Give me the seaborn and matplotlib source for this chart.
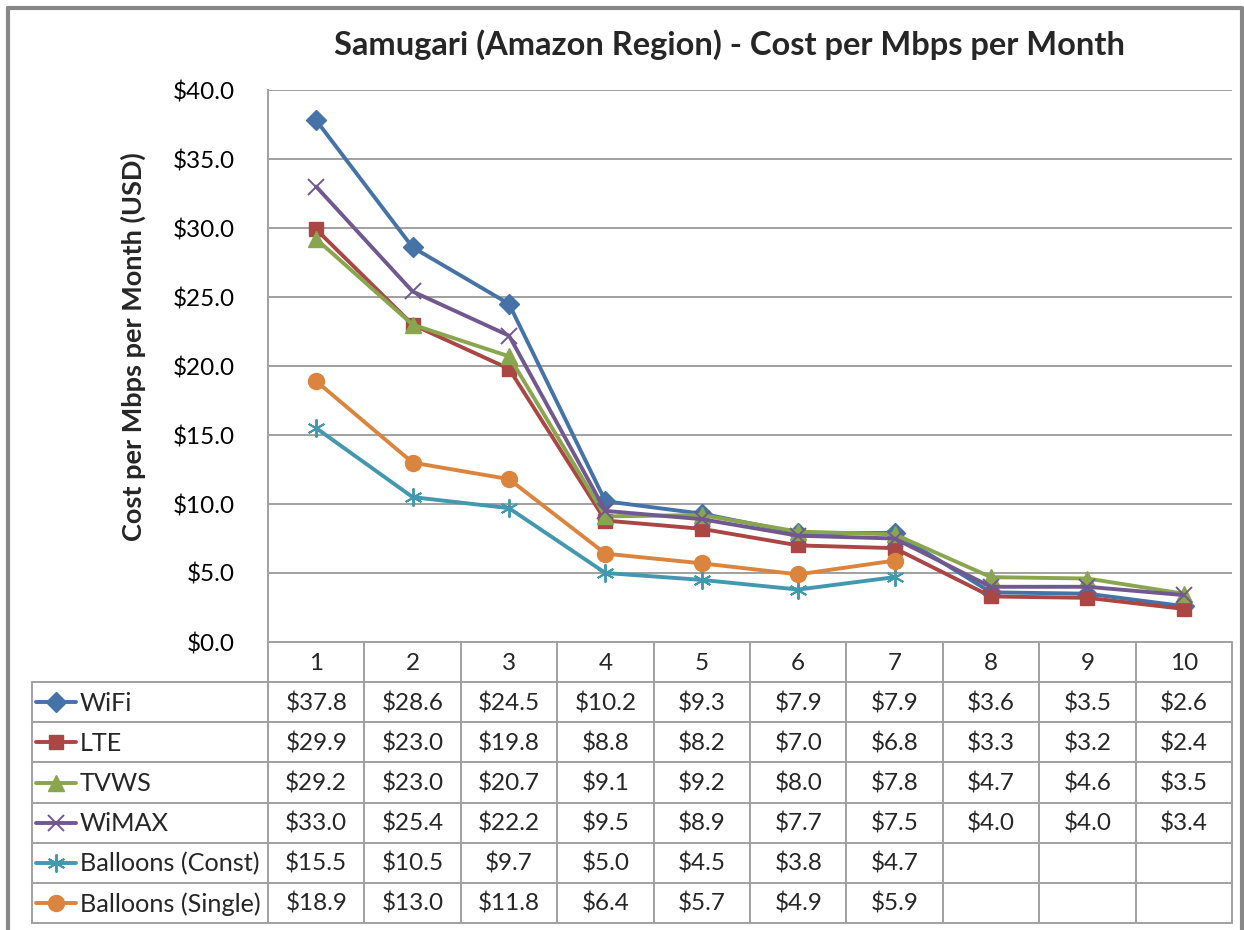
import numpy as np
import pandas as pd
import matplotlib
matplotlib.use("Agg")
import matplotlib.pyplot as plt
import seaborn as sns

# ---- data -------------------------------------------------------------
options = ["1", "2", "3", "4", "5", "6", "7", "8", "9", "10"]
series_names = ["WiFi", "LTE", "TVWS", "WiMAX", "Balloons (Const)", "Balloons (Single)"]

wifi = [37.8, 28.6, 24.5, 10.2, 9.3, 7.9, 7.9, 3.6, 3.5, 2.6]
lte = [29.9, 23.0, 19.8, 8.8, 8.2, 7.0, 6.8, 3.3, 3.2, 2.4]
tvws = [29.2, 23.0, 20.7, 9.1, 9.2, 8.0, 7.8, 4.7, 4.6, 3.5]
wimax = [33.0, 25.4, 22.2, 9.5, 8.9, 7.7, 7.5, 4.0, 4.0, 3.4]
balloons_const = [15.5, 10.5, 9.7, 5.0, 4.5, 3.8, 4.7, None, None, None]
balloons_single = [18.9, 13.0, 11.8, 6.4, 5.7, 4.9, 5.9, None, None, None]

yticks = [0, 5, 10, 15, 20, 25, 30, 35, 40]

title = "Samugari (Amazon Region) - Cost per Mbps per Month"
ylabel = "Cost per Mbps per Month (USD)"

# ---- styling ----------------------------------------------------------
colors = ["#4572A7", "#AA4643", "#89A54E", "#71588F", "#4198AF", "#DB843D"]
markers = ["D", "s", "^", "x", (6, 2, 0), "o"]
msizes = [10.5, 10.5, 11.5, 12, 13, 11.5]
mews = [1.0, 1.0, 1.0, 1.4, 1.4, 1.0]

sns.set_style("white")
plt.rcParams["font.family"] = ["Lato", "DejaVu Sans"]

W, H = 1244, 930
fig = plt.figure(figsize=(W / 100, H / 100), dpi=100)


def frac(x0, y0, x1, y1):
    return [x0 / W, 1 - y1 / H, (x1 - x0) / W, (y1 - y0) / H]


PL, PT, PR, PB = 268, 90, 1232, 642
GRID = "#A0A0A0"
LW = 2.8
VAL_FS = 17.5

ax = fig.add_axes(frac(PL, PT, PR, PB))
all_series = [wifi, lte, tvws, wimax, balloons_const, balloons_single]
for name, vals, c, m, ms, mw in zip(series_names, all_series, colors, markers, msizes, mews):
    d = pd.DataFrame({"x": np.arange(1, 11),
                      "y": [np.nan if v is None else v for v in vals]}).dropna()
    sns.lineplot(data=d, x="x", y="y", ax=ax, color=c, linewidth=LW,
                 marker=m, markersize=ms, markeredgecolor=c, markerfacecolor=c,
                 markeredgewidth=mw, legend=False, label=name)

ax.set_xlim(0.5, 10.5)
ax.set_ylim(0, 40)
ax.set_yticks(yticks)
ax.set_yticklabels([f"${v:.1f}" for v in yticks])
ax.set_xticks([])
ax.set_xlabel("")
ax.set_ylabel("")
ax.yaxis.grid(True, color=GRID, linewidth=1.4)
ax.set_axisbelow(True)
for s in ["top", "right", "bottom"]:
    ax.spines[s].set_visible(False)
ax.spines["left"].set_color(GRID)
ax.spines["left"].set_linewidth(1.4)
ax.tick_params(axis="y", length=0, pad=24, labelsize=VAL_FS, labelcolor="black")

fig.text(730 / W, 1 - 45 / H, title, ha="center", va="center",
         fontsize=23.5, fontweight="bold")
fig.text(133 / W, 1 - 347 / H, ylabel, ha="center", va="center",
         rotation=90, fontsize=19.5, fontweight="bold")

# ---- data table under the plot -----------------------------------------
tab = fig.add_axes([0, 0, 1, 1], zorder=-1)
tab.set_xlim(0, W)
tab.set_ylim(H, 0)
tab.axis("off")

# outer chart border
tab.plot([8, 1242, 1242, 8, 8], [8, 8, 940, 940, 8], color="#878787", lw=3)

col_w = (PR - PL) / len(options)
row_h = (923 - PB) / 7
rows_y = [PB + i * row_h for i in range(8)]
LEG_L = 32

tab.plot([PL, PR], [rows_y[0], rows_y[0]], color=GRID, lw=1.4)
for y in rows_y[1:]:
    tab.plot([LEG_L, PR], [y, y], color=GRID, lw=1.4)
tab.plot([LEG_L, LEG_L], [rows_y[1], rows_y[-1]], color=GRID, lw=1.4)
for i in range(len(options) + 1):
    x = PL + i * col_w
    tab.plot([x, x], [rows_y[0], rows_y[-1]], color=GRID, lw=1.4)

for i, lab in enumerate(options):
    tab.text(PL + (i + 0.5) * col_w, rows_y[0] + row_h / 2 + 1, lab,
             ha="center", va="center", fontsize=VAL_FS)

for r, (name, vals, c, m, ms, mw) in enumerate(zip(series_names, all_series, colors, markers, msizes, mews)):
    yc = rows_y[r + 1] + row_h / 2
    tab.plot([36, 76], [yc, yc], color=c, lw=LW)
    tab.plot([56], [yc], marker=m, markersize=ms, color=c, markeredgecolor=c,
             markeredgewidth=mw, linestyle="none")
    tab.text(80, yc + 1, name, ha="left", va="center", fontsize=18.2)
    for i, v in enumerate(vals):
        if v is None:
            continue
        tab.text(PL + (i + 0.5) * col_w, yc + 1, f"${v:.1f}",
                 ha="center", va="center", fontsize=VAL_FS)

fig.savefig("out.png", dpi=100, facecolor="white")
